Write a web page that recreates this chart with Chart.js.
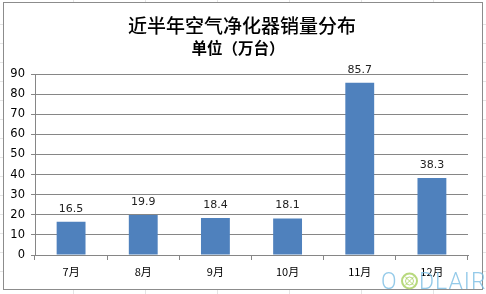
<!DOCTYPE html>
<html>
<head>
<meta charset="utf-8">
<script src="https://cdn.jsdelivr.net/npm/chart.js@4/dist/chart.umd.min.js"></script>
<style>
  html, body { margin: 0; padding: 0; background: #fff; }
  #wrap { width: 486px; height: 294px; position: relative; }
</style>
</head>
<body>
<div id="wrap"><canvas id="c" width="486" height="294"></canvas></div>
<script>
// Monthly air purifier sales over the last half year (unit: 10k units)
const months = ['7月', '8月', '9月', '10月', '11月', '12月'];
const sales = [16.5, 19.9, 18.4, 18.1, 85.7, 38.3];
const yTicks = [0, 10, 20, 30, 40, 50, 60, 70, 80, 90];
const titleText = '近半年空气净化器销量分布';
const subtitleText = '单位（万台）';

const CJK = '"Noto Sans CJK SC", "DejaVu Sans", sans-serif';
const NUM = '"DejaVu Sans", sans-serif';

// Sheet cell lines around the chart, the chart frame and the titles
const framePlugin = {
  id: 'frame',
  beforeDraw(chart) {
    const ctx = chart.ctx;
    ctx.save();
    ctx.fillStyle = '#fff';
    ctx.fillRect(0, 0, 486, 294);
    ctx.strokeStyle = '#e4e4e4';
    ctx.lineWidth = 1;
    [73, 145, 217, 289, 361, 433].forEach(x => {
      ctx.beginPath(); ctx.moveTo(x + 0.5, 290); ctx.lineTo(x + 0.5, 294); ctx.stroke();
      ctx.beginPath(); ctx.moveTo(x + 0.5, 0); ctx.lineTo(x + 0.5, 2); ctx.stroke();
    });
    [24, 43, 62, 81, 100, 119, 138, 157, 176, 195, 214, 233, 252, 271].forEach(y => {
      ctx.beginPath(); ctx.moveTo(483, y + 0.5); ctx.lineTo(486, y + 0.5); ctx.stroke();
      ctx.beginPath(); ctx.moveTo(0, y + 0.5); ctx.lineTo(3, y + 0.5); ctx.stroke();
    });
    ctx.strokeStyle = '#8c8c8c';
    ctx.strokeRect(3.5, 2.5, 479, 287);

    ctx.fillStyle = '#000';
    ctx.textAlign = 'center';
    ctx.textBaseline = 'middle';
    ctx.font = '500 19px ' + CJK;
    ctx.fillText(titleText, 242, 26);
    ctx.font = 'bold 15.5px ' + CJK;
    ctx.fillText(subtitleText, 238, 48);
    ctx.restore();
  }
};

// Value labels above each bar, plus the logo in the corner
const labelPlugin = {
  id: 'valueLabels',
  afterDatasetsDraw(chart) {
    const ctx = chart.ctx;
    const meta = chart.getDatasetMeta(0);
    ctx.save();
    ctx.fillStyle = '#222';
    ctx.font = '11px ' + NUM;
    ctx.textAlign = 'center';
    ctx.textBaseline = 'middle';
    meta.data.forEach((bar, i) => {
      ctx.fillText(String(sales[i]), bar.x, bar.y - 13);
    });
    ctx.restore();
  },
  afterDraw(chart) {
    const ctx = chart.ctx;
    ctx.save();
    ctx.globalAlpha = 0.8;
    ctx.textBaseline = 'alphabetic';
    ctx.textAlign = 'left';
    ctx.font = '300 23px Roboto, "DejaVu Sans", sans-serif';
    ctx.fillStyle = '#79bde3';
    ctx.fillText('O', 381, 289);
    // green round mark
    ctx.strokeStyle = '#a6cf5e';
    ctx.lineWidth = 2;
    ctx.beginPath(); ctx.arc(409.5, 281, 7.5, 0, Math.PI * 2); ctx.stroke();
    ctx.lineWidth = 1;
    ctx.beginPath(); ctx.arc(409.5, 281, 4, 0, Math.PI * 2); ctx.stroke();
    ctx.beginPath();
    ctx.moveTo(405, 276.5); ctx.lineTo(414, 285.5);
    ctx.moveTo(414, 276.5); ctx.lineTo(405, 285.5);
    ctx.stroke();
    ctx.fillStyle = '#79bde3';
    ctx.letterSpacing = '1px';
    ctx.fillText('DLAIR', 419, 289);
    ctx.restore();
  }
};

new Chart(document.getElementById('c'), {
  type: 'bar',
  data: {
    labels: months,
    datasets: [{
      data: sales,
      backgroundColor: '#4f81bd',
      borderWidth: 0,
      categoryPercentage: 0.4,
      barPercentage: 1.0
    }]
  },
  options: {
    responsive: false,
    animation: false,
    devicePixelRatio: 1,
    layout: { padding: { left: 4, right: 18, top: 74, bottom: 8 } },
    plugins: {
      legend: { display: false },
      tooltip: { enabled: false },
      title: { display: false }
    },
    scales: {
      x: {
        grid: {
          display: true,
          drawOnChartArea: false,
          drawTicks: true,
          tickLength: 5,
          color: '#868686',
          offset: true
        },
        border: { display: true, color: '#868686' },
        ticks: {
          color: '#000',
          font: { family: CJK, size: 11 },
          padding: 5
        },
        afterFit(scale) { scale.height = 31; }
      },
      y: {
        min: 0,
        max: 90,
        afterBuildTicks(scale) { scale.ticks = yTicks.map(v => ({ value: v })); },
        grid: {
          color: '#868686',
          tickLength: 4
        },
        border: { display: true, color: '#868686' },
        ticks: {
          color: '#000',
          font: { family: NUM, size: 11.5 },
          padding: 6
        },
        afterFit(scale) { scale.width = 31; }
      }
    }
  },
  plugins: [framePlugin, labelPlugin]
});
</script>
</body>
</html>
